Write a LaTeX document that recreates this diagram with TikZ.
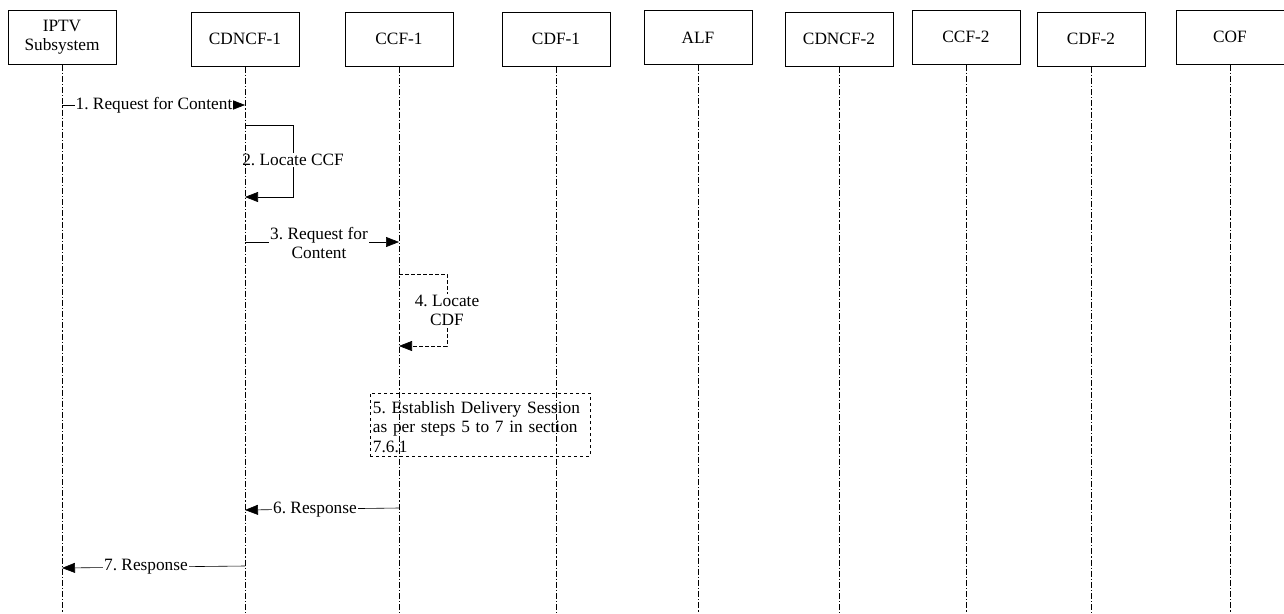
\documentclass[tikz,border=0pt]{standalone}
\usepackage{fontspec}
\setmainfont{Liberation Serif}
\usetikzlibrary{arrows.meta}
\frenchspacing
\begin{document}
\begin{tikzpicture}[x=1pt,y=-1pt,
  font=\fontsize{17.3}{19}\selectfont,
  entity/.style={draw, line width=0.7pt, minimum width=108pt, minimum height=54pt, inner sep=1pt, align=center, anchor=north},
  lifeline/.style={line width=0.6pt, dash pattern=on 6pt off 2pt on 1.2pt off 2pt},
  msg/.style={line width=0.6pt, -{Triangle[length=13pt,width=10pt]}},
  dmsg/.style={msg, dash pattern=on 4pt off 2pt},
  lbl/.style={fill=white, inner sep=1pt, align=center}
]
\useasboundingbox (0,0) rectangle (1284,613);

% entity boxes
\node[entity] (iptv)   at (62,10)   {IPTV\\Subsystem};
\node[entity] (cdncf1) at (245,12)  {CDNCF-1};
\node[entity] (ccf1)   at (399,12)  {CCF-1};
\node[entity] (cdf1)   at (556,12)  {CDF-1};
\node[entity] (alf)    at (698,10)  {ALF};
\node[entity] (cdncf2) at (839,12)  {CDNCF-2};
\node[entity] (ccf2)   at (966,10)  {CCF-2};
\node[entity] (cdf2)   at (1091,12) {CDF-2};
\node[entity] (cof)    at (1230,10) {COF};

% lifeline end points
\coordinate (iptvE)   at (62,613);
\coordinate (cdncf1E) at (245,613);
\coordinate (ccf1E)   at (399,613);
\coordinate (cdf1E)   at (556,613);
\coordinate (alfE)    at (698,613);
\coordinate (cdncf2E) at (839,613);
\coordinate (ccf2E)   at (966,613);
\coordinate (cdf2E)   at (1091,613);
\coordinate (cofE)    at (1230,613);

% message anchor points
\coordinate (m1a) at (62,105);  \coordinate (m1b) at (245,105);
\coordinate (m2a) at (245,125); \coordinate (m2b) at (245,197);
\coordinate (m3a) at (245,242); \coordinate (m3b) at (399,242);
\coordinate (m4a) at (399,274); \coordinate (m4b) at (399,346);
\coordinate (m6a) at (399,508); \coordinate (m6b) at (245,510);
\coordinate (m7a) at (245,566); \coordinate (m7b) at (62,568);

% 1
\draw[msg] (m1a) -- (m1b);
\node[lbl] (l1) at (154,105) {1. Request for Content};
% 2
\draw[msg] (m2a) -- ++(48,0) |- (m2b);
\node[lbl] (l2) at (293,160) {2. Locate CCF};
% 3
\draw[msg] (m3a) -- (m3b);
\node[lbl] (l3) at (319,243) {3. Request for\\Content};
% 4
\draw[dmsg] (m4a) -- ++(48,0) |- (m4b);
\node[lbl] (l4) at (447,310) {4. Locate\\CDF};
% 5
\node[draw, dashed, line width=0.6pt, minimum width=220pt, minimum height=63pt, inner sep=0pt] (s5) at (480,424.5) {};
\node[anchor=west, text width=216pt, align=left, inner sep=0pt, font=\fontsize{17.3}{19.5}\selectfont] (s5t) at ([xshift=3pt,yshift=-2.5pt]s5.west)
      {5. Establish Delivery Session\\as per steps 5 to 7 in section\\7.6.1};
% 6
\draw[msg] (m6a) -- (m6b);
\node[lbl] (l6) at (315,510) {6. Response};
% 7
\draw[msg] (m7a) -- (m7b);
\node[lbl] (l7) at (146,567) {7. Response};

% lifelines (drawn on top)
\foreach \e in {iptv,cdncf1,ccf1,cdf1,alf,cdncf2,ccf2,cdf2,cof}
  \draw[lifeline] (\e.south) -- (\e E);
\end{tikzpicture}
\end{document}
